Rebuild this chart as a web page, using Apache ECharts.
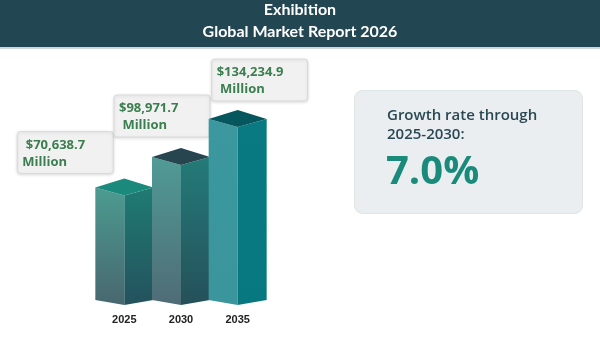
<!DOCTYPE html>
<html>
<head>
<meta charset="utf-8">
<script src="https://cdn.jsdelivr.net/npm/echarts@6/dist/echarts.min.js"></script>
<style>
  html, body { margin: 0; padding: 0; background: #ffffff; }
  #chart { width: 600px; height: 362px; }
</style>
</head>
<body>
<div id="chart"></div>
<script>
// ---- data ----
const years = ['2025', '2030', '2035'];
const marketSize = [70638.7, 98971.7, 134234.9]; // USD million
const valueLabels = [' $70,638.7\nMillion', '$98,971.7\n Million', '$134,234.9\n Million'];
const titleLines = ['Exhibition', 'Global Market Report 2026'];
const growthLabel = 'Growth rate through\n2025-2030:';
const growthValue = '7.0%';

// ---- styles (not data) ----
const faceColors = [
  { top: '#1b8a7c', left: ['#4c9b91', '#48676f'], right: ['#1f7b73', '#24525d'] },
  { top: '#26454f', left: ['#509b96', '#4f6c76'], right: ['#237b78', '#25505a'] },
  { top: '#06565e', left: ['#3b989e', '#3a959c'], right: ['#0a7a82', '#087880'] }
];
// label box offsets relative to the bar's front top corner
const labelBoxOffsets = [[-107, -64], [-67, -70], [-26, -68]];
const BOX_W = 96, BOX_H = 42;

const chart = echarts.init(document.getElementById('chart'), null, { renderer: 'canvas' });

function grad(c) {
  return new echarts.graphic.LinearGradient(0, 0, 0, 1, [
    { offset: 0, color: c[0] }, { offset: 1, color: c[1] }
  ]);
}

function renderItem(params, api) {
  const i = params.dataIndex;
  const top = api.coord([api.value(0), api.value(1)]);
  const cs = params.coordSys;
  const base = cs.y + cs.height;
  const x = top[0], yt = top[1];
  const hw = 29, bo = 5, to = 8, bk = 17;
  const c = faceColors[i];
  const off = labelBoxOffsets[i];
  const bx = x + off[0], by = yt + off[1];
  return {
    type: 'group',
    children: [
      { type: 'polygon', shape: { points: [[x - hw, base - bo], [x, base], [x, yt], [x - hw, yt - to]] },
        style: { fill: grad(c.left) } },
      { type: 'polygon', shape: { points: [[x, base], [x + hw, base - bo], [x + hw, yt - to], [x, yt]] },
        style: { fill: grad(c.right) } },
      { type: 'polygon', shape: { points: [[x - hw, yt - to], [x, yt - bk], [x + hw, yt - to], [x, yt]] },
        style: { fill: c.top } },
      { type: 'rect', shape: { x: bx, y: by, width: BOX_W, height: BOX_H, r: 3 },
        style: { fill: '#f1f1f1', stroke: '#dadada', lineWidth: 1,
                 shadowBlur: 3, shadowColor: 'rgba(0,0,0,0.12)', shadowOffsetY: 1 } },
      { type: 'text', style: { text: valueLabels[i], x: bx + 5, y: by + 5,
          verticalAlign: 'top', align: 'left',
          font: 'bold 13px "Open Sans", sans-serif', lineHeight: 17, fill: '#3b7e4f' } }
    ]
  };
}

const option = {
  backgroundColor: '#ffffff',
  animation: false,
  title: {
    text: titleLines.join('\n'),
    left: 'center',
    top: -1,
    padding: 0,
    textStyle: { color: '#ffffff', fontSize: 16, fontWeight: 'bold', fontFamily: 'Lato, sans-serif', lineHeight: 22 }
  },
  grid: { left: 96, width: 170, bottom: 57, top: 89.6 },
  xAxis: {
    type: 'category',
    data: years,
    axisLine: { show: false },
    axisTick: { show: false },
    axisLabel: { color: '#222222', fontSize: 11, fontWeight: 'bold', fontFamily: '"Liberation Sans", Arial, sans-serif', margin: 9 }
  },
  yAxis: {
    type: 'value', min: -31000, max: 169000, show: false, splitLine: { show: false }
  },
  graphic: [
    { type: 'rect', z: -1, shape: { x: 0, y: 0, width: 600, height: 47 }, style: { fill: '#234653' } },
    { type: 'rect', z: -1, shape: { x: 0, y: 47, width: 600, height: 2 }, style: { fill: '#cdd7da' } },
    { type: 'rect', shape: { x: 354.5, y: 90.5, width: 228, height: 123, r: 8 },
      style: { fill: '#eaeef0', stroke: '#dfe4e6', lineWidth: 1 } },
    { type: 'text', style: { text: growthLabel, x: 387, y: 106, verticalAlign: 'top',
        font: '600 15px "Open Sans", sans-serif', lineHeight: 19, fill: '#2a4853' } },
    { type: 'text', style: { text: growthValue, x: 386, y: 173, verticalAlign: 'middle',
        font: 'bold 40px "Open Sans", sans-serif', fill: '#1a8a7b' } }
  ],
  series: [{
    type: 'custom',
    renderItem: renderItem,
    clip: false,
    data: years.map((y, i) => [i, marketSize[i]])
  }]
};
chart.setOption(option);
</script>
</body>
</html>
